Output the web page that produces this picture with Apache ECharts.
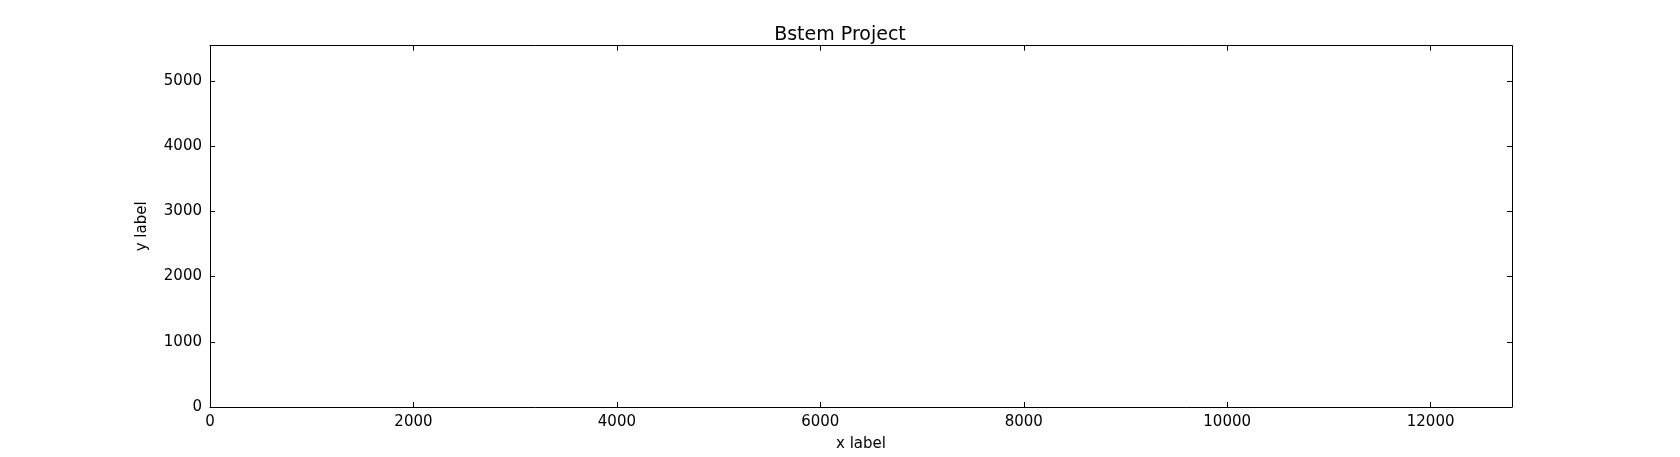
<!DOCTYPE html>
<html>
<head>
<meta charset="utf-8">
<script src="https://cdn.jsdelivr.net/npm/echarts@6/dist/echarts.min.js"></script>
<style>html,body{margin:0;padding:0;background:#fff}#main{width:1680px;height:457px}</style>
</head>
<body>
<div id="main"></div>
<script>
// empty plot: only the axis ranges are known
var xRange = [0, 12800];
var yRange = [0, 5540];
var seriesData = [];

var myChart = echarts.init(document.getElementById("main"));
var font = "DejaVu Sans";
var tick = { show: true, inside: true, length: 5, lineStyle: { color: "#000" } };
var line = { show: true, onZero: false, lineStyle: { color: "#000", width: 1 } };
function axis(pos, range, step, labels, name) {
  return {
    type: "value", position: pos, min: range[0], max: range[1], interval: step,
    name: name || "", nameLocation: "middle",
    nameGap: pos === "left" ? 60 : 30,
    nameTextStyle: { fontFamily: font, fontSize: 15, color: "#000" },
    axisLine: line, axisTick: tick, splitLine: { show: false },
    axisLabel: {
      show: labels, showMaxLabel: false, fontFamily: font, fontSize: 15, color: "#000", margin: 8,
      formatter: function (v) { return String(v); }
    }
  };
}
var option = {
  animation: false,
  title: {
    text: "Bstem Project", left: "center", top: 21,
    textStyle: { fontFamily: font, fontSize: 19, fontWeight: "normal", color: "#000" }
  },
  grid: { left: "12.5%", right: "10%", top: "10%", bottom: "10%", containLabel: false },
  xAxis: [axis("bottom", xRange, 2000, true, "x label"), axis("top", xRange, 2000, false)],
  yAxis: [axis("left", yRange, 1000, true, "y label"), axis("right", yRange, 1000, false)],
  series: [{ type: "line", data: seriesData }]
};
myChart.setOption(option);
</script>
</body>
</html>
